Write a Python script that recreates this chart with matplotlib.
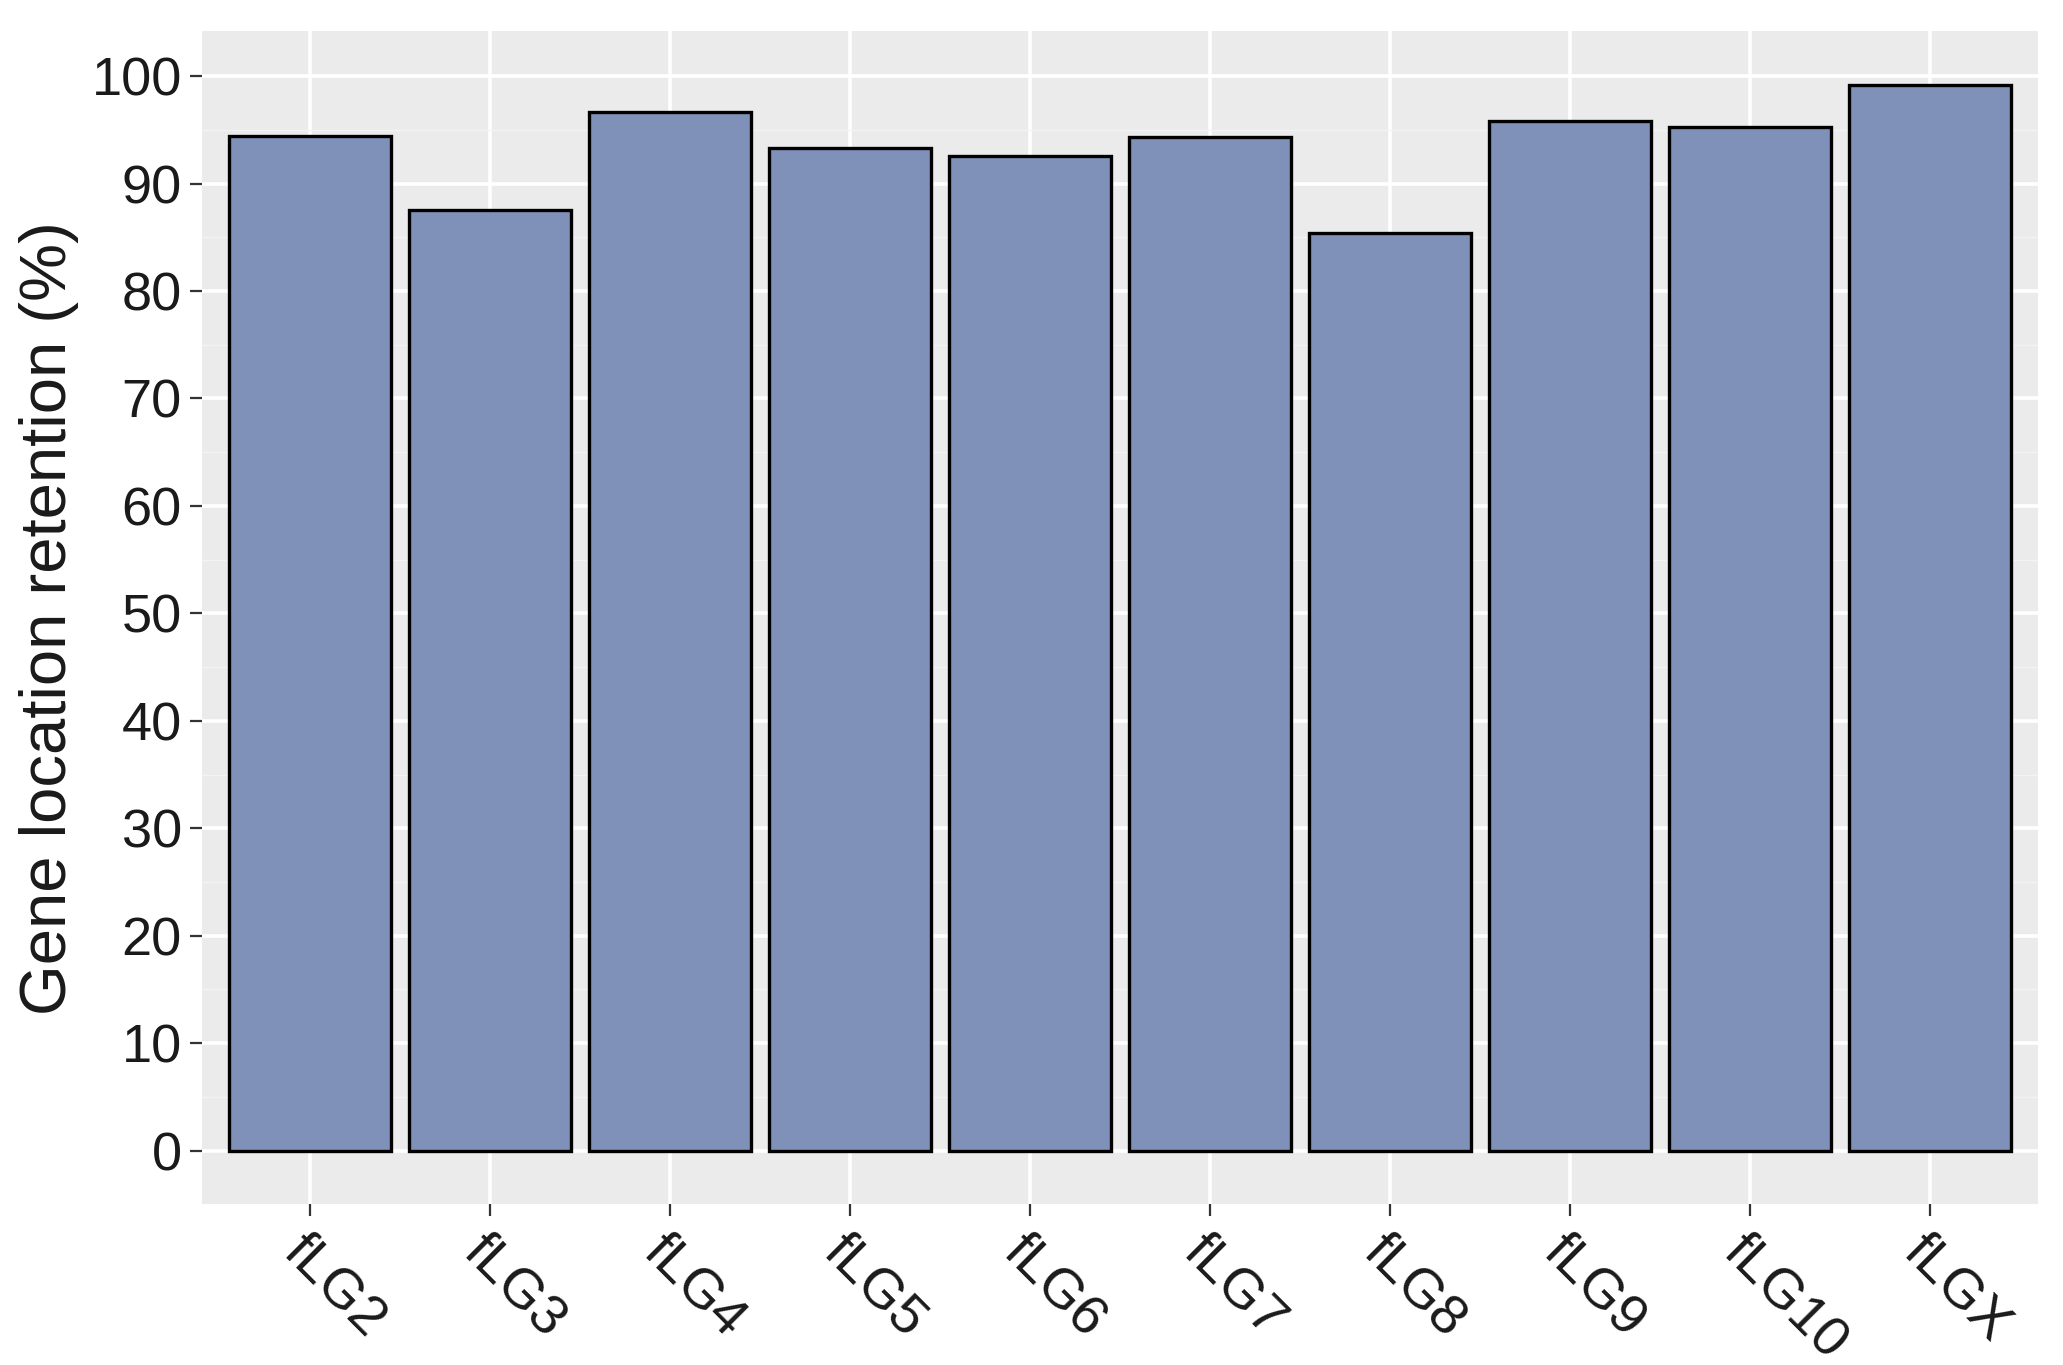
import numpy as np
import matplotlib
matplotlib.use('Agg')
import matplotlib.pyplot as plt

plt.rcParams['font.family'] = ['Liberation Sans', 'DejaVu Sans']

# data
groups = ['fLG2', 'fLG3', 'fLG4', 'fLG5', 'fLG6', 'fLG7', 'fLG8', 'fLG9', 'fLG10', 'fLGX']
retention = [94.4, 87.5, 96.7, 93.3, 92.6, 94.3, 85.4, 95.8, 95.3, 99.2]
yticks = [0, 10, 20, 30, 40, 50, 60, 70, 80, 90, 100]

fig = plt.figure(figsize=(20.63, 13.65), dpi=100)
ax = fig.add_axes([0.0979, 0.118, 0.890, 0.859])

x = np.arange(len(groups))
ax.set_facecolor('#EBEBEB')
ax.set_axisbelow(True)

# ggplot-like grid
ax.set_yticks(yticks)
ax.set_yticks(np.arange(5, 100, 10), minor=True)
ax.grid(True, which='major', color='white', linewidth=2.6)
ax.grid(True, which='minor', axis='y', color='#F3F3F3', linewidth=1.0)

ax.bar(x, retention, width=0.9, color='#7f91b9', edgecolor='black', linewidth=2.4)

ymax = max(retention)
ax.set_xlim(-0.6, len(groups) - 0.4)
ax.set_ylim(-0.05 * ymax, ymax * 1.05)

ax.set_xticks(x)
ax.set_xticklabels(groups, rotation=-45, ha='left', va='top', rotation_mode='anchor')
ax.tick_params(axis='both', which='major', labelsize=39, length=8.5, width=1.6,
               color='#333333', labelcolor='#1a1a1a', pad=6)
ax.tick_params(axis='x', which='major', labelsize=40, pad=7)
ax.tick_params(axis='y', which='minor', length=0)

for s in ax.spines.values():
    s.set_visible(False)

ax.set_ylabel('Gene location retention (%)', fontsize=47, color='#1a1a1a')
ax.yaxis.set_label_coords(-0.067, 0.5)

fig.savefig('out.png', dpi=100)
